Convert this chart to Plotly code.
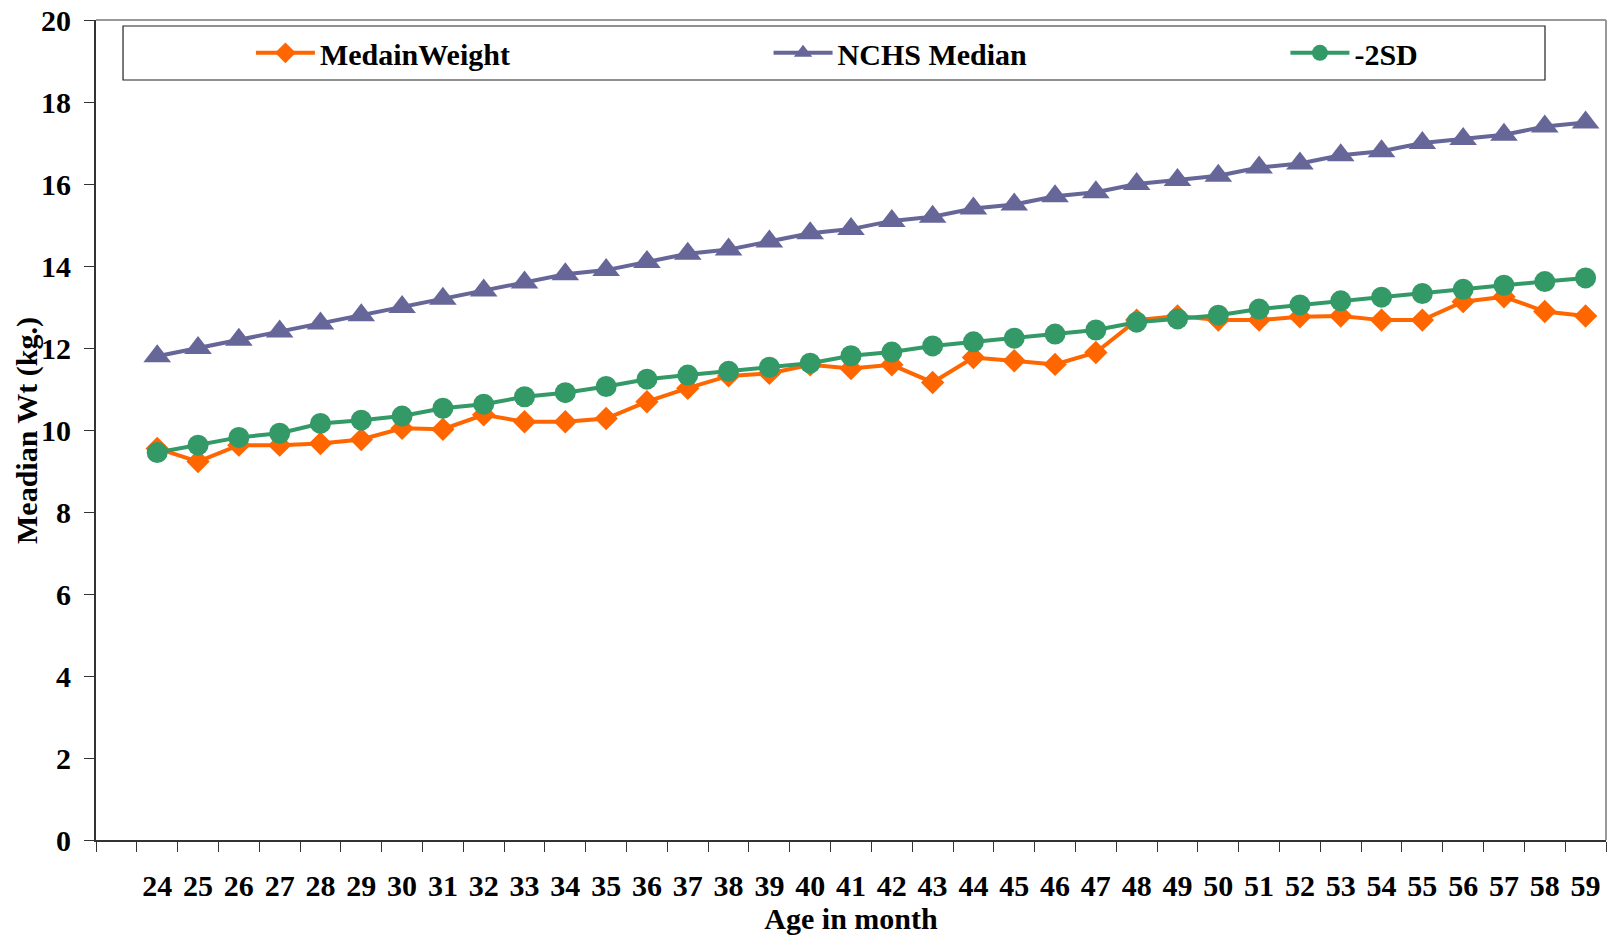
import plotly.graph_objects as go

# Age in months (x categories)
ages = list(range(24, 60))

# Observed median weight (kg) by age
median_weight = [9.55, 9.23, 9.63, 9.63, 9.67, 9.77, 10.04, 10.02, 10.37,
                 10.20, 10.20, 10.28, 10.69, 11.02, 11.32, 11.38, 11.59, 11.50,
                 11.59, 11.16, 11.77, 11.69, 11.60, 11.89, 12.68, 12.78, 12.68,
                 12.68, 12.76, 12.78, 12.68, 12.68, 13.13, 13.25, 12.89, 12.78]

# NCHS reference median (kg)
nchs_median = [11.8, 12.0, 12.2, 12.4, 12.6, 12.8, 13.0, 13.2, 13.4,
               13.6, 13.8, 13.9, 14.1, 14.3, 14.4, 14.6, 14.8, 14.9,
               15.1, 15.2, 15.4, 15.5, 15.7, 15.8, 16.0, 16.1, 16.2,
               16.4, 16.5, 16.7, 16.8, 17.0, 17.1, 17.2, 17.4, 17.5]

# NCHS -2SD cut-off (kg)
minus_2sd = [9.45, 9.63, 9.82, 9.92, 10.16, 10.24, 10.34, 10.53, 10.63,
             10.81, 10.91, 11.06, 11.24, 11.34, 11.43, 11.53, 11.63, 11.81,
             11.90, 12.05, 12.15, 12.24, 12.34, 12.44, 12.63, 12.71, 12.80,
             12.95, 13.05, 13.15, 13.24, 13.33, 13.43, 13.53, 13.62, 13.71]

y_ticks = list(range(0, 21, 2))

FONT = "Liberation Serif, Times New Roman, serif"
ORANGE = "#FF6600"
PURPLE = "#666699"
GREEN = "#339966"
AXIS = "#333333"
BORDER = "#999999"
LABEL_FONT = dict(family=FONT, size=30, color="black", weight="bold")

fig = go.Figure()

fig.add_trace(go.Scatter(
    x=ages, y=median_weight, name="MedainWeight", mode="lines+markers",
    line=dict(color=ORANGE, width=4),
    marker=dict(symbol="diamond", size=18, color=ORANGE),
    legend="legend",
))
fig.add_trace(go.Scatter(
    x=ages, y=nchs_median, name="NCHS Median", mode="lines+markers",
    line=dict(color=PURPLE, width=4),
    marker=dict(symbol="triangle-up", size=24, color=PURPLE),
    legend="legend2",
))
fig.add_trace(go.Scatter(
    x=ages, y=minus_2sd, name="-2SD", mode="lines+markers",
    line=dict(color=GREEN, width=4),
    marker=dict(symbol="circle", size=21, color=GREEN),
    legend="legend3",
))

# plot-area frame: light top and right edges
fig.add_shape(type="line", xref="paper", yref="paper", x0=0, x1=1, y0=1, y1=1,
              line=dict(color=BORDER, width=2), layer="below")
fig.add_shape(type="line", xref="paper", yref="paper", x0=1, x1=1, y0=0, y1=1,
              line=dict(color=BORDER, width=2), layer="below")
# legend frame
fig.add_shape(type="rect", xref="paper", yref="paper",
              x0=0.0179, x1=0.9596, y0=0.9268, y1=0.9927,
              line=dict(color="#222222", width=1.2), fillcolor="white", layer="below")

# y-axis title
fig.add_annotation(text="Meadian Wt (kg.)", xref="paper", yref="paper",
                   x=-0.0457, y=0.5, xanchor="center", yanchor="middle",
                   textangle=-90, showarrow=False, font=LABEL_FONT)


def legend_at(x):
    return dict(
        orientation="h", x=x, xanchor="left", y=0.96, yanchor="middle",
        bgcolor="rgba(0,0,0,0)", borderwidth=0, font=LABEL_FONT,
        itemwidth=59, itemclick=False, itemdoubleclick=False,
    )


fig.update_layout(
    width=1607, height=939,
    margin=dict(l=96, r=1, t=20, b=99, autoexpand=False),
    paper_bgcolor="white", plot_bgcolor="white",
    font=LABEL_FONT,
    showlegend=True,
    legend=legend_at(0.1026),
    legend2=legend_at(0.4454),
    legend3=legend_at(0.7877),
    xaxis=dict(
        range=[22.5, 59.5], tickmode="array", tickvals=ages,
        ticktext=[str(a) for a in ages], ticks="", showgrid=False, zeroline=False,
        showline=True, linecolor=AXIS, linewidth=2,
        ticklabelstandoff=18, tickfont=LABEL_FONT,
        minor=dict(ticks="outside", tick0=22.5, dtick=1, ticklen=10,
                   tickcolor=AXIS, tickwidth=1, showgrid=False),
        title=dict(text="Age in month", standoff=3, font=LABEL_FONT),
        automargin=False,
    ),
    yaxis=dict(
        range=[0, 20], tickmode="array", tickvals=y_ticks,
        ticks="outside", ticklen=10, tickcolor=AXIS, tickwidth=1,
        showgrid=False, zeroline=False,
        showline=True, linecolor=AXIS, linewidth=2,
        ticklabelstandoff=7, tickfont=LABEL_FONT,
        automargin=False,
    ),
)

fig.write_html("out.html")
